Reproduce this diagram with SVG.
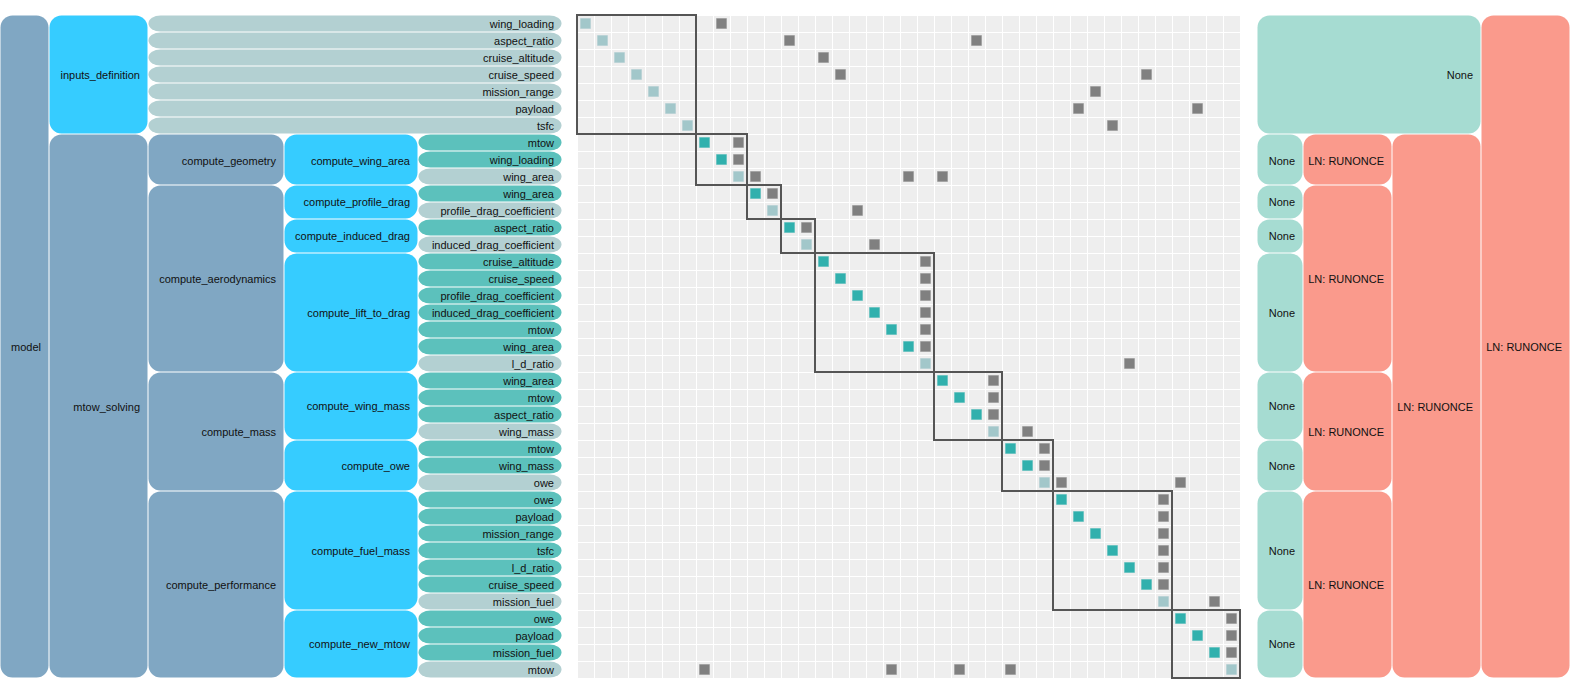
<svg xmlns="http://www.w3.org/2000/svg" width="1570" height="695" viewBox="0 0 1570 695">
<style>
rect.b{rx:12px;ry:12px;}
.grp{fill:#80a7c3;}
.cmp{fill:#36ccff;}
.inp{fill:#5cc1bc;}
.out{fill:#b3d0d2;}
.nl{fill:#a6dcd2;}
.ln{fill:#fa9a8c;}
text{font-family:"Liberation Sans",Arial,Helvetica,sans-serif;font-size:11px;text-anchor:end;dominant-baseline:central;fill:#111;}
.sq{stroke-width:1;stroke-opacity:0.35;}
.di{fill:#30b0ad;stroke:#30b0ad;}
.do{fill:#a2c7ca;stroke:#a2c7ca;}
.og{fill:#808080;stroke:#808080;}
.blk{fill:none;stroke:#555;stroke-width:2;}
</style>
<defs>
<pattern id="grid" patternUnits="userSpaceOnUse" x="577" y="15" width="17" height="17">
<rect width="17" height="17" fill="#ffffff"/>
<rect x="1" y="1" width="16" height="16" fill="#eeeeee"/>
</pattern>
</defs>
<rect width="1570" height="695" fill="#ffffff"/>

<!-- left hierarchy -->
<g id="model"><rect class="b grp" x="0.5" y="15.5" width="48" height="662"/><text x="41" y="346.5">model</text></g>
<g id="inputs_definition"><rect class="b cmp" x="49.5" y="15.5" width="98" height="118"/><text x="140" y="74.5">inputs_definition</text></g>
<g id="mtow_solving"><rect class="b grp" x="49.5" y="134.5" width="98" height="543"/><text x="140" y="406.5">mtow_solving</text></g>
<g id="compute_geometry"><rect class="b grp" x="148.5" y="134.5" width="135" height="50"/><text x="276" y="160.5">compute_geometry</text></g>
<g id="compute_aerodynamics"><rect class="b grp" x="148.5" y="185.5" width="135" height="186"/><text x="276" y="278.5">compute_aerodynamics</text></g>
<g id="compute_mass"><rect class="b grp" x="148.5" y="372.5" width="135" height="118"/><text x="276" y="431.5">compute_mass</text></g>
<g id="compute_performance"><rect class="b grp" x="148.5" y="491.5" width="135" height="186"/><text x="276" y="584.5">compute_performance</text></g>
<g id="compute_wing_area"><rect class="b cmp" x="284.5" y="134.5" width="133" height="50"/><text x="410" y="160.5">compute_wing_area</text></g>
<g id="compute_profile_drag"><rect class="b cmp" x="284.5" y="185.5" width="133" height="33"/><text x="410" y="202">compute_profile_drag</text></g>
<g id="compute_induced_drag"><rect class="b cmp" x="284.5" y="219.5" width="133" height="33"/><text x="410" y="236">compute_induced_drag</text></g>
<g id="compute_lift_to_drag"><rect class="b cmp" x="284.5" y="253.5" width="133" height="118"/><text x="410" y="312.5">compute_lift_to_drag</text></g>
<g id="compute_wing_mass"><rect class="b cmp" x="284.5" y="372.5" width="133" height="67"/><text x="410" y="406">compute_wing_mass</text></g>
<g id="compute_owe"><rect class="b cmp" x="284.5" y="440.5" width="133" height="50"/><text x="410" y="465.5">compute_owe</text></g>
<g id="compute_fuel_mass"><rect class="b cmp" x="284.5" y="491.5" width="133" height="118"/><text x="410" y="550.5">compute_fuel_mass</text></g>
<g id="compute_new_mtow"><rect class="b cmp" x="284.5" y="610.5" width="133" height="67"/><text x="410" y="644">compute_new_mtow</text></g>

<!-- variables -->
<g id="v0"><rect class="b out" x="148.5" y="15.5" width="413" height="16"/><text x="554" y="23.5">wing_loading</text></g>
<g id="v1"><rect class="b out" x="148.5" y="32.5" width="413" height="16"/><text x="554" y="40.5">aspect_ratio</text></g>
<g id="v2"><rect class="b out" x="148.5" y="49.5" width="413" height="16"/><text x="554" y="57.5">cruise_altitude</text></g>
<g id="v3"><rect class="b out" x="148.5" y="66.5" width="413" height="16"/><text x="554" y="74.5">cruise_speed</text></g>
<g id="v4"><rect class="b out" x="148.5" y="83.5" width="413" height="16"/><text x="554" y="91.5">mission_range</text></g>
<g id="v5"><rect class="b out" x="148.5" y="100.5" width="413" height="16"/><text x="554" y="108.5">payload</text></g>
<g id="v6"><rect class="b out" x="148.5" y="117.5" width="413" height="16"/><text x="554" y="125.5">tsfc</text></g>
<g id="v7"><rect class="b inp" x="418.5" y="134.5" width="143" height="16"/><text x="554" y="142.5">mtow</text></g>
<g id="v8"><rect class="b inp" x="418.5" y="151.5" width="143" height="16"/><text x="554" y="159.5">wing_loading</text></g>
<g id="v9"><rect class="b out" x="418.5" y="168.5" width="143" height="16"/><text x="554" y="176.5">wing_area</text></g>
<g id="v10"><rect class="b inp" x="418.5" y="185.5" width="143" height="16"/><text x="554" y="193.5">wing_area</text></g>
<g id="v11"><rect class="b out" x="418.5" y="202.5" width="143" height="16"/><text x="554" y="210.5">profile_drag_coefficient</text></g>
<g id="v12"><rect class="b inp" x="418.5" y="219.5" width="143" height="16"/><text x="554" y="227.5">aspect_ratio</text></g>
<g id="v13"><rect class="b out" x="418.5" y="236.5" width="143" height="16"/><text x="554" y="244.5">induced_drag_coefficient</text></g>
<g id="v14"><rect class="b inp" x="418.5" y="253.5" width="143" height="16"/><text x="554" y="261.5">cruise_altitude</text></g>
<g id="v15"><rect class="b inp" x="418.5" y="270.5" width="143" height="16"/><text x="554" y="278.5">cruise_speed</text></g>
<g id="v16"><rect class="b inp" x="418.5" y="287.5" width="143" height="16"/><text x="554" y="295.5">profile_drag_coefficient</text></g>
<g id="v17"><rect class="b inp" x="418.5" y="304.5" width="143" height="16"/><text x="554" y="312.5">induced_drag_coefficient</text></g>
<g id="v18"><rect class="b inp" x="418.5" y="321.5" width="143" height="16"/><text x="554" y="329.5">mtow</text></g>
<g id="v19"><rect class="b inp" x="418.5" y="338.5" width="143" height="16"/><text x="554" y="346.5">wing_area</text></g>
<g id="v20"><rect class="b out" x="418.5" y="355.5" width="143" height="16"/><text x="554" y="363.5">l_d_ratio</text></g>
<g id="v21"><rect class="b inp" x="418.5" y="372.5" width="143" height="16"/><text x="554" y="380.5">wing_area</text></g>
<g id="v22"><rect class="b inp" x="418.5" y="389.5" width="143" height="16"/><text x="554" y="397.5">mtow</text></g>
<g id="v23"><rect class="b inp" x="418.5" y="406.5" width="143" height="16"/><text x="554" y="414.5">aspect_ratio</text></g>
<g id="v24"><rect class="b out" x="418.5" y="423.5" width="143" height="16"/><text x="554" y="431.5">wing_mass</text></g>
<g id="v25"><rect class="b inp" x="418.5" y="440.5" width="143" height="16"/><text x="554" y="448.5">mtow</text></g>
<g id="v26"><rect class="b inp" x="418.5" y="457.5" width="143" height="16"/><text x="554" y="465.5">wing_mass</text></g>
<g id="v27"><rect class="b out" x="418.5" y="474.5" width="143" height="16"/><text x="554" y="482.5">owe</text></g>
<g id="v28"><rect class="b inp" x="418.5" y="491.5" width="143" height="16"/><text x="554" y="499.5">owe</text></g>
<g id="v29"><rect class="b inp" x="418.5" y="508.5" width="143" height="16"/><text x="554" y="516.5">payload</text></g>
<g id="v30"><rect class="b inp" x="418.5" y="525.5" width="143" height="16"/><text x="554" y="533.5">mission_range</text></g>
<g id="v31"><rect class="b inp" x="418.5" y="542.5" width="143" height="16"/><text x="554" y="550.5">tsfc</text></g>
<g id="v32"><rect class="b inp" x="418.5" y="559.5" width="143" height="16"/><text x="554" y="567.5">l_d_ratio</text></g>
<g id="v33"><rect class="b inp" x="418.5" y="576.5" width="143" height="16"/><text x="554" y="584.5">cruise_speed</text></g>
<g id="v34"><rect class="b out" x="418.5" y="593.5" width="143" height="16"/><text x="554" y="601.5">mission_fuel</text></g>
<g id="v35"><rect class="b inp" x="418.5" y="610.5" width="143" height="16"/><text x="554" y="618.5">owe</text></g>
<g id="v36"><rect class="b inp" x="418.5" y="627.5" width="143" height="16"/><text x="554" y="635.5">payload</text></g>
<g id="v37"><rect class="b inp" x="418.5" y="644.5" width="143" height="16"/><text x="554" y="652.5">mission_fuel</text></g>
<g id="v38"><rect class="b out" x="418.5" y="661.5" width="143" height="16"/><text x="554" y="669.5">mtow</text></g>

<!-- matrix -->
<g id="matrix">
<rect x="577" y="15" width="664" height="663" fill="url(#grid)"/>
<g id="diagonal">
<rect class="sq do" x="580.5" y="18.5" width="10" height="10"/>
<rect class="sq do" x="597.5" y="35.5" width="10" height="10"/>
<rect class="sq do" x="614.5" y="52.5" width="10" height="10"/>
<rect class="sq do" x="631.5" y="69.5" width="10" height="10"/>
<rect class="sq do" x="648.5" y="86.5" width="10" height="10"/>
<rect class="sq do" x="665.5" y="103.5" width="10" height="10"/>
<rect class="sq do" x="682.5" y="120.5" width="10" height="10"/>
<rect class="sq di" x="699.5" y="137.5" width="10" height="10"/>
<rect class="sq di" x="716.5" y="154.5" width="10" height="10"/>
<rect class="sq do" x="733.5" y="171.5" width="10" height="10"/>
<rect class="sq di" x="750.5" y="188.5" width="10" height="10"/>
<rect class="sq do" x="767.5" y="205.5" width="10" height="10"/>
<rect class="sq di" x="784.5" y="222.5" width="10" height="10"/>
<rect class="sq do" x="801.5" y="239.5" width="10" height="10"/>
<rect class="sq di" x="818.5" y="256.5" width="10" height="10"/>
<rect class="sq di" x="835.5" y="273.5" width="10" height="10"/>
<rect class="sq di" x="852.5" y="290.5" width="10" height="10"/>
<rect class="sq di" x="869.5" y="307.5" width="10" height="10"/>
<rect class="sq di" x="886.5" y="324.5" width="10" height="10"/>
<rect class="sq di" x="903.5" y="341.5" width="10" height="10"/>
<rect class="sq do" x="920.5" y="358.5" width="10" height="10"/>
<rect class="sq di" x="937.5" y="375.5" width="10" height="10"/>
<rect class="sq di" x="954.5" y="392.5" width="10" height="10"/>
<rect class="sq di" x="971.5" y="409.5" width="10" height="10"/>
<rect class="sq do" x="988.5" y="426.5" width="10" height="10"/>
<rect class="sq di" x="1005.5" y="443.5" width="10" height="10"/>
<rect class="sq di" x="1022.5" y="460.5" width="10" height="10"/>
<rect class="sq do" x="1039.5" y="477.5" width="10" height="10"/>
<rect class="sq di" x="1056.5" y="494.5" width="10" height="10"/>
<rect class="sq di" x="1073.5" y="511.5" width="10" height="10"/>
<rect class="sq di" x="1090.5" y="528.5" width="10" height="10"/>
<rect class="sq di" x="1107.5" y="545.5" width="10" height="10"/>
<rect class="sq di" x="1124.5" y="562.5" width="10" height="10"/>
<rect class="sq di" x="1141.5" y="579.5" width="10" height="10"/>
<rect class="sq do" x="1158.5" y="596.5" width="10" height="10"/>
<rect class="sq di" x="1175.5" y="613.5" width="10" height="10"/>
<rect class="sq di" x="1192.5" y="630.5" width="10" height="10"/>
<rect class="sq di" x="1209.5" y="647.5" width="10" height="10"/>
<rect class="sq do" x="1226.5" y="664.5" width="10" height="10"/>
</g>
<g id="blocks">
<rect class="blk" x="577" y="15" width="119" height="119"/>
<rect class="blk" x="696" y="134" width="51" height="51"/>
<rect class="blk" x="747" y="185" width="34" height="34"/>
<rect class="blk" x="781" y="219" width="34" height="34"/>
<rect class="blk" x="815" y="253" width="119" height="119"/>
<rect class="blk" x="934" y="372" width="68" height="68"/>
<rect class="blk" x="1002" y="440" width="51" height="51"/>
<rect class="blk" x="1053" y="491" width="119" height="119"/>
<rect class="blk" x="1172" y="610" width="68" height="68"/>
</g>
</g>

<g id="connectors">
<rect class="sq og" x="716.5" y="18.5" width="10" height="10"/>
<rect class="sq og" x="784.5" y="35.5" width="10" height="10"/>
<rect class="sq og" x="971.5" y="35.5" width="10" height="10"/>
<rect class="sq og" x="818.5" y="52.5" width="10" height="10"/>
<rect class="sq og" x="835.5" y="69.5" width="10" height="10"/>
<rect class="sq og" x="1141.5" y="69.5" width="10" height="10"/>
<rect class="sq og" x="1090.5" y="86.5" width="10" height="10"/>
<rect class="sq og" x="1073.5" y="103.5" width="10" height="10"/>
<rect class="sq og" x="1192.5" y="103.5" width="10" height="10"/>
<rect class="sq og" x="1107.5" y="120.5" width="10" height="10"/>
<rect class="sq og" x="733.5" y="137.5" width="10" height="10"/>
<rect class="sq og" x="733.5" y="154.5" width="10" height="10"/>
<rect class="sq og" x="750.5" y="171.5" width="10" height="10"/>
<rect class="sq og" x="903.5" y="171.5" width="10" height="10"/>
<rect class="sq og" x="937.5" y="171.5" width="10" height="10"/>
<rect class="sq og" x="767.5" y="188.5" width="10" height="10"/>
<rect class="sq og" x="852.5" y="205.5" width="10" height="10"/>
<rect class="sq og" x="801.5" y="222.5" width="10" height="10"/>
<rect class="sq og" x="869.5" y="239.5" width="10" height="10"/>
<rect class="sq og" x="920.5" y="256.5" width="10" height="10"/>
<rect class="sq og" x="920.5" y="273.5" width="10" height="10"/>
<rect class="sq og" x="920.5" y="290.5" width="10" height="10"/>
<rect class="sq og" x="920.5" y="307.5" width="10" height="10"/>
<rect class="sq og" x="920.5" y="324.5" width="10" height="10"/>
<rect class="sq og" x="920.5" y="341.5" width="10" height="10"/>
<rect class="sq og" x="1124.5" y="358.5" width="10" height="10"/>
<rect class="sq og" x="988.5" y="375.5" width="10" height="10"/>
<rect class="sq og" x="988.5" y="392.5" width="10" height="10"/>
<rect class="sq og" x="988.5" y="409.5" width="10" height="10"/>
<rect class="sq og" x="1022.5" y="426.5" width="10" height="10"/>
<rect class="sq og" x="1039.5" y="443.5" width="10" height="10"/>
<rect class="sq og" x="1039.5" y="460.5" width="10" height="10"/>
<rect class="sq og" x="1056.5" y="477.5" width="10" height="10"/>
<rect class="sq og" x="1175.5" y="477.5" width="10" height="10"/>
<rect class="sq og" x="1158.5" y="494.5" width="10" height="10"/>
<rect class="sq og" x="1158.5" y="511.5" width="10" height="10"/>
<rect class="sq og" x="1158.5" y="528.5" width="10" height="10"/>
<rect class="sq og" x="1158.5" y="545.5" width="10" height="10"/>
<rect class="sq og" x="1158.5" y="562.5" width="10" height="10"/>
<rect class="sq og" x="1158.5" y="579.5" width="10" height="10"/>
<rect class="sq og" x="1209.5" y="596.5" width="10" height="10"/>
<rect class="sq og" x="1226.5" y="613.5" width="10" height="10"/>
<rect class="sq og" x="1226.5" y="630.5" width="10" height="10"/>
<rect class="sq og" x="1226.5" y="647.5" width="10" height="10"/>
<rect class="sq og" x="699.5" y="664.5" width="10" height="10"/>
<rect class="sq og" x="886.5" y="664.5" width="10" height="10"/>
<rect class="sq og" x="954.5" y="664.5" width="10" height="10"/>
<rect class="sq og" x="1005.5" y="664.5" width="10" height="10"/>
</g>

<!-- solver side -->
<g id="s_inputs_definition"><rect class="b nl" x="1257.5" y="15.5" width="223" height="118"/><text x="1473" y="74.5">None</text></g>
<g id="s_compute_wing_area"><rect class="b nl" x="1257.5" y="134.5" width="45" height="50"/><text x="1295" y="160.5">None</text></g>
<g id="s_compute_profile_drag"><rect class="b nl" x="1257.5" y="185.5" width="45" height="33"/><text x="1295" y="202">None</text></g>
<g id="s_compute_induced_drag"><rect class="b nl" x="1257.5" y="219.5" width="45" height="33"/><text x="1295" y="236">None</text></g>
<g id="s_compute_lift_to_drag"><rect class="b nl" x="1257.5" y="253.5" width="45" height="118"/><text x="1295" y="312.5">None</text></g>
<g id="s_compute_wing_mass"><rect class="b nl" x="1257.5" y="372.5" width="45" height="67"/><text x="1295" y="406">None</text></g>
<g id="s_compute_owe"><rect class="b nl" x="1257.5" y="440.5" width="45" height="50"/><text x="1295" y="465.5">None</text></g>
<g id="s_compute_fuel_mass"><rect class="b nl" x="1257.5" y="491.5" width="45" height="118"/><text x="1295" y="550.5">None</text></g>
<g id="s_compute_new_mtow"><rect class="b nl" x="1257.5" y="610.5" width="45" height="67"/><text x="1295" y="644">None</text></g>
<g id="s_compute_geometry"><rect class="b ln" x="1303.5" y="134.5" width="88" height="50"/><text x="1384" y="160.5">LN: RUNONCE</text></g>
<g id="s_compute_aerodynamics"><rect class="b ln" x="1303.5" y="185.5" width="88" height="186"/><text x="1384" y="278.5">LN: RUNONCE</text></g>
<g id="s_compute_mass"><rect class="b ln" x="1303.5" y="372.5" width="88" height="118"/><text x="1384" y="431.5">LN: RUNONCE</text></g>
<g id="s_compute_performance"><rect class="b ln" x="1303.5" y="491.5" width="88" height="186"/><text x="1384" y="584.5">LN: RUNONCE</text></g>
<g id="s_mtow_solving"><rect class="b ln" x="1392.5" y="134.5" width="88" height="543"/><text x="1473" y="406.5">LN: RUNONCE</text></g>
<g id="s_model"><rect class="b ln" x="1481.5" y="15.5" width="88" height="662"/><text x="1562" y="346.5">LN: RUNONCE</text></g>
</svg>
